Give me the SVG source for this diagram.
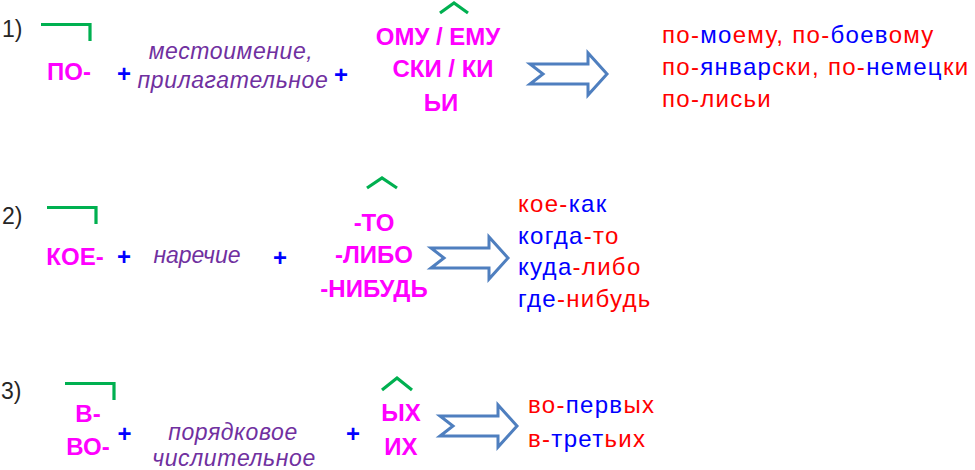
<svg xmlns="http://www.w3.org/2000/svg" width="975" height="470" viewBox="0 0 975 470">
<defs>
<style>
.num{font-family:"Liberation Sans",Arial,sans-serif;font-size:23px;fill:#262626}
.mg{font-family:"Liberation Sans",Arial,sans-serif;font-size:24px;font-weight:bold;fill:#ff00ff;text-anchor:middle}
.pl{font-family:"Liberation Sans",Arial,sans-serif;font-size:24px;font-weight:bold;fill:#0000ff;text-anchor:middle}
.it{font-family:"Liberation Sans",Arial,sans-serif;font-size:23px;font-style:italic;fill:#7030a0;text-anchor:middle;letter-spacing:0.6px}
.ex{font-family:"Liberation Sans",Arial,sans-serif;font-size:24px;letter-spacing:1.3px}
.r{fill:#ff0000}
.b{fill:#0000ff}
.mark{fill:none;stroke:#00b050;stroke-width:3.2}
.arr{fill:#ffffff;stroke:#4f7fbf;stroke-width:3;stroke-linejoin:miter}
</style>
<polygon id="blockArrow" points="0,-10 58,-10 58,-21 77,0 58,21 58,10 0,10 13,0"/>
</defs>
<rect width="975" height="470" fill="#ffffff"/>

<g id="row1">
<g id="n1-num"><text class="num" x="2" y="37">1)</text></g>
<g id="n1-prefix"><path class="mark" d="M41 24.5 H90 V41"/><text class="mg" x="69" y="80">ПО-</text></g>
<g id="n1-plus1"><text class="pl" x="124" y="82">+</text></g>
<g id="n1-base"><text class="it" x="231" y="59">местоимение,</text><text class="it" x="233" y="88">прилагательное</text></g>
<g id="n1-plus2"><text class="pl" x="341" y="82.5">+</text></g>
<g id="n1-suffix"><path class="mark" d="M440 13 L454 3 L468 13"/>
<text class="mg" x="438" y="45">ОМУ / ЕМУ</text>
<text class="mg" x="443" y="77">СКИ / КИ</text>
<text class="mg" x="441" y="111">ЬИ</text></g>
<g id="n1-examples">
<text class="ex" x="662" y="43"><tspan class="r">по-</tspan><tspan class="b">мо</tspan><tspan class="r">ему, по-</tspan><tspan class="b">боев</tspan><tspan class="r">ому</tspan></text>
<text class="ex" x="662" y="75"><tspan class="r">по-</tspan><tspan class="b">январ</tspan><tspan class="r">ски, по-</tspan><tspan class="b">немец</tspan><tspan class="r">ки</tspan></text>
<text class="ex" x="662" y="107"><tspan class="r">по-лисьи</tspan></text>
</g>
</g>

<g id="row2">
<g id="n2-num"><text class="num" x="2" y="224">2)</text></g>
<g id="n2-prefix"><path class="mark" d="M47 207.5 H96 V224"/><text class="mg" x="75" y="265">КОЕ-</text></g>
<g id="n2-plus1"><text class="pl" x="124" y="265">+</text></g>
<g id="n2-base"><text class="it" x="197" y="263" style="letter-spacing:0">наречие</text></g>
<g id="n2-plus2"><text class="pl" x="280" y="265.5">+</text></g>
<g id="n2-suffix"><path class="mark" d="M367 188 L382 178 L397 188"/>
<text class="mg" x="374" y="231">-ТО</text>
<text class="mg" x="374" y="263">-ЛИБО</text>
<text class="mg" x="374" y="297">-НИБУДЬ</text></g>
<g id="n2-examples">
<text class="ex" x="518" y="212"><tspan class="r">кое-</tspan><tspan class="b">как</tspan></text>
<text class="ex" x="518" y="244"><tspan class="b">когда</tspan><tspan class="r">-то</tspan></text>
<text class="ex" x="518" y="275"><tspan class="b">куда</tspan><tspan class="r">-либо</tspan></text>
<text class="ex" x="518" y="307"><tspan class="b">где</tspan><tspan class="r">-нибудь</tspan></text>
</g>
</g>

<g id="row3">
<g id="n3-num"><text class="num" x="1" y="399">3)</text></g>
<g id="n3-prefix"><path class="mark" d="M65 383.5 H114 V400"/>
<text class="mg" x="88" y="422">В-</text>
<text class="mg" x="88" y="455">ВО-</text></g>
<g id="n3-plus1"><text class="pl" x="124.5" y="441.5">+</text></g>
<g id="n3-base"><text class="it" x="233" y="440">порядковое</text><text class="it" x="234" y="466">числительное</text></g>
<g id="n3-plus2"><text class="pl" x="353" y="441.5">+</text></g>
<g id="n3-suffix"><path class="mark" d="M382 390 L397 378 L412 390"/>
<text class="mg" x="401" y="421">ЫХ</text>
<text class="mg" x="401" y="455">ИХ</text></g>
<g id="n3-examples">
<text class="ex" x="528" y="413"><tspan class="r">во-</tspan><tspan class="b">перв</tspan><tspan class="r">ых</tspan></text>
<text class="ex" x="528" y="447"><tspan class="r">в-</tspan><tspan class="b">трет</tspan><tspan class="r">ьих</tspan></text>
</g>
</g>

<g id="connectors">
<use href="#blockArrow" class="arr" transform="translate(530,74)"/>
<use href="#blockArrow" class="arr" transform="translate(431,258)"/>
<use href="#blockArrow" class="arr" transform="translate(440,426)"/>
</g>
</svg>
